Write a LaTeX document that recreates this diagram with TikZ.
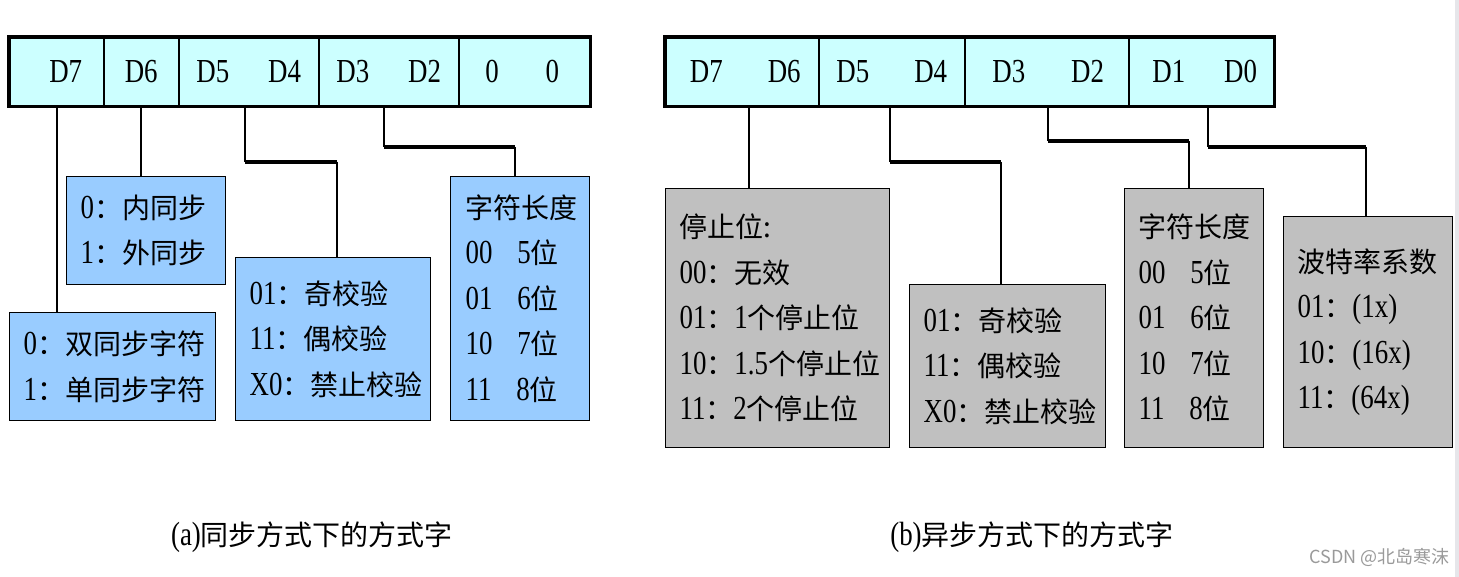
\documentclass[tikz,border=0pt]{standalone}
\usepackage{fontspec}
\setmainfont{Liberation Serif}[Scale=1.2, FakeStretch=0.8]
\newfontfamily\cjk{Noto Sans CJK SC}
\newfontfamily\wmfont{Noto Sans CJK SC}
\newcommand\zh[1]{{\cjk #1}}
\usetikzlibrary{calc}
\definecolor{regcyan}{HTML}{CCFFFF}
\definecolor{boxblue}{HTML}{99CCFF}
\definecolor{boxgray}{HTML}{C0C0C0}
\definecolor{stripgray}{HTML}{E6E6EA}
\definecolor{wmgray}{HTML}{9A9A9A}
\tikzset{
  cell/.style={draw, line width=1.5pt, fill=regcyan, minimum height=68pt, inner sep=0pt,
    anchor=north west, font=\fontsize{28}{34}\selectfont},
  regframe/.style={draw, line width=3.5pt},
  infobox/.style={draw, line width=1.2pt, inner xsep=14pt, inner ysep=0pt, align=left,
    anchor=north west, font=\fontsize{28}{45.5}\selectfont},
  bluebox/.style={infobox, fill=boxblue},
  graybox/.style={infobox, fill=boxgray},
  wire/.style={line width=1.6pt},
  wirebold/.style={line width=3.5pt, line cap=square},
  caption/.style={font=\fontsize{28}{34}\selectfont, inner sep=0pt},
  watermark/.style={font=\wmfont\fontsize{18}{22}\selectfont, text=wmgray, inner sep=0pt}
}
\begin{document}
\begin{tikzpicture}[x=1pt,y=-1pt]
\useasboundingbox (0,0) rectangle (1459,577);
\fill[white] (0,0) rectangle (1459,577);
\fill[stripgray] (1455,0) rectangle (1459,577);

% ---------------- (a) register ----------------
\node[cell, minimum width=94pt]  (a1) at (9,37)   {\hspace{18pt}D7};
\node[cell, minimum width=75pt]  (a2) at (103,37) {D6};
\node[cell, minimum width=140pt] (a3) at (178,37) {D5\hspace{39pt}D4};
\node[cell, minimum width=140pt] (a4) at (318,37) {D3\hspace{39pt}D2};
\node[cell, minimum width=131pt] (a5) at (458,37) {\hspace{-4pt}0\hspace{47pt}0};
\draw[regframe] (a1.north west) rectangle (a5.south east);

% ---------------- (a) boxes ----------------
\node[bluebox, text width=178pt, minimum height=108pt] (ba) at (9,312)
  {0\zh{：双同步字符}\\1\zh{：单同步字符}};
\node[bluebox, text width=131pt, minimum height=108pt] (bb) at (66,176)
  {0\zh{：内同步}\\1\zh{：外同步}};
\node[bluebox, text width=167pt, minimum height=163pt] (bc) at (235,257)
  {01\zh{：奇校验}\\11\zh{：偶校验}\\X0\zh{：禁止校验}};
\node[bluebox, inner xsep=12pt, text width=115pt, minimum height=244pt] (bd) at (450,176)
  {\hspace{3pt}\zh{字符长度}\\\hspace{3pt}00\hspace{25pt}5\zh{位}\\\hspace{3pt}01\hspace{25pt}6\zh{位}\\\hspace{3pt}10\hspace{25pt}7\zh{位}\\\hspace{3pt}11\hspace{25pt}8\zh{位}};

% ---------------- (a) connectors ----------------
\draw[wire] (a1.south) -- (a1.south |- ba.north);
\draw[wire] (a2.south) -- (a2.south |- bb.north);
\coordinate (a3s) at ($(a3.south)+(-4,0)$);
\coordinate (a3k) at (a3s |- 0,162);
\coordinate (bck) at (337,162);
\draw[wire] (a3s) -- (a3k);
\draw[wirebold] (a3k) -- (bck);
\draw[wire] (bck) -- (bck |- bc.north);
\coordinate (a4s) at ($(a4.south)+(-5,0)$);
\coordinate (a4k) at (a4s |- 0,147);
\coordinate (bdk) at (515,147);
\draw[wire] (a4s) -- (a4k);
\draw[wirebold] (a4k) -- (bdk);
\draw[wire] (bdk) -- (bdk |- bd.north);

% ---------------- (b) register ----------------
\node[cell, minimum width=153pt] (b1) at (665,37)  {\hspace{6pt}D7\hspace{45pt}D6};
\node[cell, minimum width=146pt] (b2) at (818,37)  {D5\hspace{45pt}D4};
\node[cell, minimum width=164pt] (b3) at (964,37)  {\hspace{3pt}D3\hspace{46pt}D2};
\node[cell, minimum width=145pt] (b4) at (1128,37) {\hspace{7pt}D1\hspace{39pt}D0};
\draw[regframe] (b1.north west) rectangle (b4.south east);

% ---------------- (b) boxes ----------------
\node[graybox, text width=196pt, minimum height=259pt] (ea) at (665,188)
  {\zh{停止位:}\\00\zh{：无效}\\01\zh{：}1\zh{个停止位}\\10\zh{：}1.5\zh{个停止位}\\11\zh{：}2\zh{个停止位}};
\node[graybox, text width=168pt, minimum height=163pt] (eb) at (909,284)
  {01\zh{：奇校验}\\11\zh{：偶校验}\\X0\zh{：禁止校验}};
\node[graybox, inner xsep=12pt, text width=115pt, minimum height=259pt] (ec) at (1124,188)
  {\hspace{2pt}\zh{字符长度}\\\hspace{2pt}00\hspace{25pt}5\zh{位}\\\hspace{2pt}01\hspace{25pt}6\zh{位}\\\hspace{2pt}10\hspace{25pt}7\zh{位}\\\hspace{2pt}11\hspace{25pt}8\zh{位}};
\node[graybox, text width=141pt, minimum height=231pt] (ed) at (1283,216)
  {\zh{波特率系数}\\01\zh{：}(1x)\\10\zh{：}(16x)\\11\zh{：}(64x)};

% ---------------- (b) connectors ----------------
\coordinate (b1s) at ($(b1.south)+(7,0)$);
\draw[wire] (b1s) -- (b1s |- ea.north);
\coordinate (b2s) at ($(b2.south)+(-2,0)$);
\coordinate (b2k) at (b2s |- 0,162);
\coordinate (ebk) at (1001,162);
\draw[wire] (b2s) -- (b2k);
\draw[wirebold] (b2k) -- (ebk);
\draw[wire] (ebk) -- (ebk |- eb.north);
\coordinate (b3s) at ($(b3.south)+(1,0)$);
\coordinate (b3k) at (b3s |- 0,141);
\coordinate (eck) at (1189,141);
\draw[wire] (b3s) -- (b3k);
\draw[wirebold] (b3k) -- (eck);
\draw[wire] (eck) -- (eck |- ec.north);
\coordinate (b4s) at ($(b4.south)+(7,0)$);
\coordinate (b4k) at (b4s |- 0,147);
\coordinate (edk) at (1366,147);
\draw[wire] (b4s) -- (b4k);
\draw[wirebold] (b4k) -- (edk);
\draw[wire] (edk) -- (edk |- ed.north);

% ---------------- captions ----------------
\node[caption] (capa) at (312,537) {(a)\zh{同步方式下的方式字}};
\node[caption] (capb) at (1032,537) {(b)\zh{异步方式下的方式字}};
\node[watermark, anchor=east] (wm) at (1450,557) {CSDN @北岛寒沫};
\end{tikzpicture}
\end{document}
